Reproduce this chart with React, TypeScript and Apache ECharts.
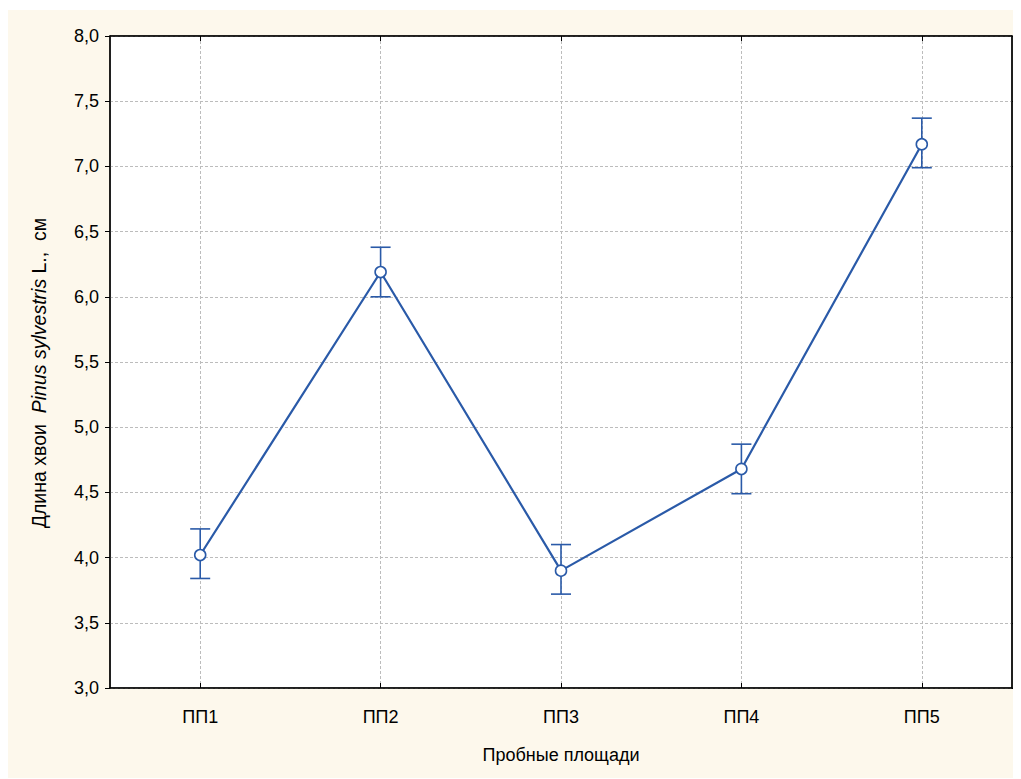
import React, { useEffect, useRef } from "react";
import * as echarts from "echarts";

const categories = ["ПП1", "ПП2", "ПП3", "ПП4", "ПП5"];
const means = [4.02, 6.19, 3.9, 4.68, 7.17];
const upper = [4.22, 6.38, 4.1, 4.87, 7.37];
const lower = [3.84, 6.0, 3.72, 4.49, 6.99];
const yMin = 3;
const yMax = 8;
const yStep = 0.5;

const BLUE = "#2a5aa8";
const FONT = "'Liberation Sans', Arial, sans-serif";

export default function App() {
  const ref = useRef<HTMLDivElement>(null);
  useEffect(() => {
    if (!ref.current) return;
    const chart = echarts.init(ref.current, undefined, { renderer: "svg" });
    const fmt = (v: number) => v.toFixed(1).replace(".", ",");
    const errData = categories.map((c, i) => [i, lower[i], upper[i]]);
    chart.setOption({
      animation: false,
      backgroundColor: "#fdf8ec",
      textStyle: { fontFamily: FONT },
      grid: {
        left: 102,
        right: 9,
        top: 26,
        bottom: 90,
        show: true,
        backgroundColor: "#ffffff",
        borderColor: "#000",
        borderWidth: 1,
      },
      xAxis: [
        {
          type: "category",
          data: categories,
          boundaryGap: true,
          position: "bottom",
          axisLine: { lineStyle: { color: "#000", width: 1.5 } },
          axisTick: { show: true, inside: true, length: 5, alignWithLabel: true, lineStyle: { color: "#000" } },
          axisLabel: { color: "#000", fontSize: 18, margin: 20, fontFamily: FONT },
          splitLine: { show: true, alignWithLabel: true, lineStyle: { color: "#bcbcbc", type: [3, 2], width: 1 } },
          name: "Пробные площади",
          nameLocation: "middle",
          nameGap: 58,
          nameTextStyle: { color: "#000", fontSize: 18, fontFamily: FONT },
        },
        {
          type: "category",
          data: categories,
          boundaryGap: true,
          position: "top",
          axisLine: { lineStyle: { color: "#000", width: 1.5 } },
          axisTick: { show: true, inside: true, length: 5, alignWithLabel: true, lineStyle: { color: "#000" } },
          axisLabel: { show: false },
          splitLine: { show: false },
        },
      ],
      yAxis: [
        {
          type: "value",
          min: yMin,
          max: yMax,
          interval: yStep,
          position: "left",
          axisLine: { show: true, lineStyle: { color: "#000", width: 1.5 } },
          axisTick: { show: true, inside: false, length: 5, lineStyle: { color: "#000" } },
          axisLabel: { color: "#000", fontSize: 18, margin: 11, formatter: fmt, fontFamily: FONT },
          splitLine: { show: true, lineStyle: { color: "#bcbcbc", type: [3, 2], width: 1 } },
          name: "{n|Длина хвои  }{i|Pinus sylvestris}{n| L.,  см}",
          nameLocation: "middle",
          nameGap: 61,
          nameRotate: 90,
          nameTextStyle: {
            padding: [0, 22, 0, 0],
            rich: {
              n: { color: "#000", fontSize: 19.5, fontFamily: FONT },
              i: { color: "#000", fontSize: 19.5, fontStyle: "italic", fontFamily: FONT },
            },
          },
        },
        {
          type: "value",
          min: yMin,
          max: yMax,
          interval: yStep,
          position: "right",
          axisLine: { show: true, lineStyle: { color: "#000", width: 1.5 } },
          axisTick: { show: true, inside: false, length: 5, lineStyle: { color: "#000" } },
          axisLabel: { show: false },
          splitLine: { show: false },
        },
      ],
      series: [
        {
          type: "custom",
          xAxisIndex: 0,
          yAxisIndex: 0,
          data: errData,
          z: 2,
          renderItem: (params: any, api: any) => {
            const x = api.value(0);
            const lo = api.coord([x, api.value(1)]);
            const hi = api.coord([x, api.value(2)]);
            const half = 10;
            const style = { stroke: BLUE, lineWidth: 1.6 };
            return {
              type: "group",
              children: [
                { type: "line", shape: { x1: lo[0], y1: lo[1], x2: hi[0], y2: hi[1] }, style },
                { type: "line", shape: { x1: hi[0] - half, y1: hi[1], x2: hi[0] + half, y2: hi[1] }, style },
                { type: "line", shape: { x1: lo[0] - half, y1: lo[1], x2: lo[0] + half, y2: lo[1] }, style },
              ],
            };
          },
        },
        {
          type: "line",
          xAxisIndex: 0,
          yAxisIndex: 0,
          data: means,
          z: 3,
          symbol: "circle",
          symbolSize: 11,
          lineStyle: { color: BLUE, width: 2.2 },
          itemStyle: { color: "#ffffff", borderColor: BLUE, borderWidth: 1.6 },
        },
      ],
    });
    return () => chart.dispose();
  }, []);
  return (
    <div style={{ paddingTop: 2 }}>
      <div ref={ref} style={{ width: 1013, height: 768 }} />
    </div>
  );
}
